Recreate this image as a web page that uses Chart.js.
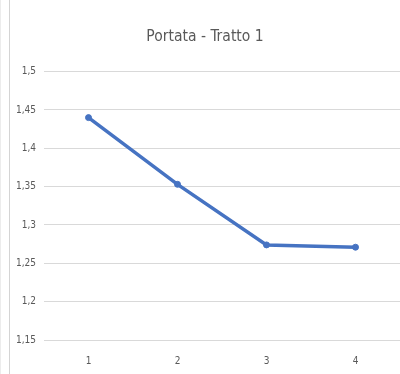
<!DOCTYPE html>
<html>
<head>
<meta charset="utf-8">
<script src="https://cdn.jsdelivr.net/npm/chart.js@4/dist/chart.umd.min.js"></script>
<style>
    body { margin: 0; background: #fff; }
    #box { position: relative; width: 400px; height: 374px; }
    .bordo { position: absolute; top: 0; bottom: 0; width: 1px; }
</style>
</head>
<body>
<div id="box">
    <div class="bordo" style="left:0; background:#ececec;"></div>
    <div class="bordo" style="left:9px; background:#d4d4d4;"></div>
    <canvas id="grafico" width="400" height="374"></canvas>
</div>
<script>
// Portata per tratto
const tratti = ['1', '2', '3', '4'];
const portata = [1.44, 1.353, 1.274, 1.271];
const asseYMin = 1.15;
const asseYMax = 1.5;
const passoY = 0.05;

const FONT = "'DejaVu Sans Condensed', 'Liberation Sans', sans-serif";
const GRIGIO = '#595959';
const BLU = '#4673c2';

function formattaVirgola(v) {
    return String(Math.round(v * 100) / 100).replace('.', ',');
}

const ctx = document.getElementById('grafico').getContext('2d');
new Chart(ctx, {
    type: 'line',
    data: {
        labels: tratti,
        datasets: [{
            data: portata,
            borderColor: BLU,
            backgroundColor: BLU,
            pointBackgroundColor: BLU,
            pointBorderColor: BLU,
            borderWidth: 3.5,
            pointRadius: 3,
            pointBorderWidth: 1,
            tension: 0
        }]
    },
    options: {
        responsive: false,
        animation: false,
        layout: { autoPadding: false, padding: { left: 10, right: 0, top: 0, bottom: -8 } },
        plugins: {
            legend: { display: false },
            tooltip: { enabled: false },
            title: {
                display: true,
                text: 'Portata - Tratto 1',
                color: GRIGIO,
                font: { family: FONT, size: 15.5, weight: 'normal' },
                padding: { top: 28, bottom: 25 }
            }
        },
        scales: {
            x: {
                offset: true,
                grid: { display: false, drawTicks: false },
                border: { display: false },
                ticks: {
                    color: GRIGIO,
                    font: { family: FONT, size: 10 },
                    padding: 15
                }
            },
            y: {
                min: asseYMin,
                max: asseYMax,
                border: { display: false },
                grid: { color: '#d9d9d9', lineWidth: 1, drawTicks: false },
                ticks: {
                    stepSize: passoY,
                    color: GRIGIO,
                    font: { family: FONT, size: 10 },
                    padding: 8,
                    callback: function(value) {
                        return formattaVirgola(value);
                    }
                },
                // larghezza fissa dell'asse, l'area del grafico parte a x = 44
                afterFit: function(scale) {
                    scale.width = 34;
                }
            }
        }
    }
});
</script>
</body>
</html>
